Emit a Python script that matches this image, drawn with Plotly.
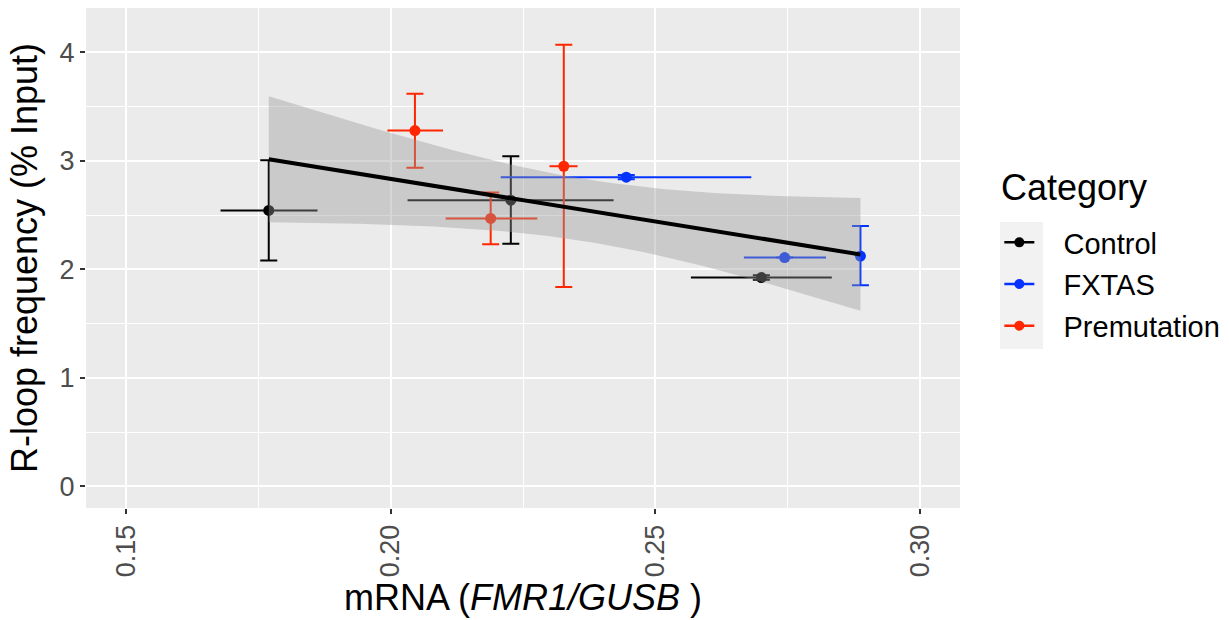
import numpy as np
import plotly.graph_objects as go

categories = ["Control", "FXTAS", "Premutation"]
colors = ["#000000", "#0433FF", "#FF2600"]

# point means (mRNA FMR1/GUSB, R-loop % input)
x_mean = {
    "Control": [0.1770, 0.2227, 0.2700],
    "FXTAS": [0.2445, 0.2744, 0.2887],
    "Premutation": [0.2046, 0.2189, 0.2327],
}
y_mean = {
    "Control": [2.544, 2.638, 1.925],
    "FXTAS": [2.850, 2.109, 2.123],
    "Premutation": [3.280, 2.470, 2.951],
}
# error-bar limits (None = no bar)
x_low = {
    "Control": [0.1679, 0.2032, 0.2567],
    "FXTAS": [0.2208, 0.2667, None],
    "Premutation": [0.1994, 0.2104, 0.2300],
}
x_high = {
    "Control": [0.1862, 0.2421, 0.2833],
    "FXTAS": [0.2681, 0.2822, None],
    "Premutation": [0.2099, 0.2277, 0.2353],
}
y_low = {
    "Control": [2.081, 2.237, 1.905],
    "FXTAS": [2.830, None, 1.854],
    "Premutation": [2.937, 2.231, 1.838],
}
y_high = {
    "Control": [3.006, 3.043, 1.945],
    "FXTAS": [2.870, None, 2.399],
    "Premutation": [3.620, 2.709, 4.071],
}

x_ticks = [0.15, 0.20, 0.25, 0.30]
x_tick_text = ["0.15", "0.20", "0.25", "0.30"]
y_ticks = [0, 1, 2, 3, 4]

FONT = "Liberation Sans, Arial, Helvetica, sans-serif"

def diffs(vals, lo, hi):
    plus, minus = [], []
    for v, l, h in zip(vals, lo, hi):
        if l is None or h is None:
            plus.append(None)
            minus.append(None)
        else:
            plus.append(h - v)
            minus.append(v - l)
    return plus, minus

fig = go.Figure()

for cat, col in zip(categories, colors):
    xp, xm = diffs(x_mean[cat], x_low[cat], x_high[cat])
    yp, ym = diffs(y_mean[cat], y_low[cat], y_high[cat])
    fig.add_trace(go.Scatter(
        x=x_mean[cat], y=y_mean[cat], mode="markers",
        marker=dict(color=col, size=11),
        error_x=dict(type="data", symmetric=False, array=xp, arrayminus=xm,
                     color=col, thickness=2, width=0),
        error_y=dict(type="data", symmetric=False, array=yp, arrayminus=ym,
                     color=col, thickness=2, width=8.5),
        showlegend=False, hoverinfo="skip",
    ))

# linear fit with 95% confidence band
all_x = np.array(sum((x_mean[c] for c in categories), []))
all_y = np.array(sum((y_mean[c] for c in categories), []))
n = len(all_x)
slope, intercept = np.polyfit(all_x, all_y, 1)
resid = all_y - (slope * all_x + intercept)
s = np.sqrt(np.sum(resid ** 2) / (n - 2))
sxx = np.sum((all_x - all_x.mean()) ** 2)
t_crit = 2.364624  # t(0.975, df=7)
xs = np.linspace(all_x.min(), all_x.max(), 80)
fit = slope * xs + intercept
se = s * np.sqrt(1.0 / n + (xs - all_x.mean()) ** 2 / sxx)
upper = fit + t_crit * se
lower = fit - t_crit * se

fig.add_trace(go.Scatter(
    x=np.concatenate([xs, xs[::-1]]), y=np.concatenate([upper, lower[::-1]]),
    fill="toself", fillcolor="rgba(153,153,153,0.4)", line=dict(width=0),
    mode="lines", showlegend=False, hoverinfo="skip",
))
fig.add_trace(go.Scatter(
    x=xs, y=fit, mode="lines", line=dict(color="#000000", width=4),
    showlegend=False, hoverinfo="skip",
))

# legend entries
for cat, col in zip(categories, colors):
    fig.add_trace(go.Scatter(
        x=[None], y=[None], mode="lines+markers", name="\u00a0\u00a0\u00a0" + cat,
        line=dict(color=col, width=2.5), marker=dict(color=col, size=10),
        legendgroup=cat,
    ))

fig.update_layout(
    width=1229, height=620,
    margin=dict(l=86, r=269, t=8, b=112, autoexpand=False),
    paper_bgcolor="white", plot_bgcolor="#EBEBEB",
    font=dict(family=FONT, color="#000000"),
    legend=dict(
        font=dict(size=29, color="#000000"),
        x=1.045, xanchor="left", y=0.582, yanchor="top",
        tracegroupgap=1, bgcolor="rgba(0,0,0,0)",
    ),
    annotations=[dict(
        text="Category", xref="paper", yref="paper", x=1.0446, y=0.642,
        xanchor="left", yanchor="middle", showarrow=False,
        font=dict(size=36, color="#000000"),
    )],
    shapes=[dict(
        type="rect", xref="paper", yref="paper",
        x0=1.0458, x1=1.0950, y0=0.318, y1=0.572,
        fillcolor="#F2F2F2", line=dict(width=0), layer="below",
    )],
    xaxis=dict(
        range=[0.1425, 0.3075], tickvals=x_ticks, ticktext=x_tick_text,
        tickangle=-90, ticks="outside", ticklen=5, tickwidth=1.5, tickcolor="#333333",
        tickfont=dict(size=27, color="#4D4D4D"),
        showgrid=True, gridcolor="white", gridwidth=1.6, zeroline=False,
        minor=dict(dtick=0.025, tick0=0.15, showgrid=True, gridcolor="white",
                   gridwidth=0.8, ticks=""),
        title=dict(text="mRNA (<i>FMR1/GUSB</i> )", font=dict(size=36), standoff=6),
        showline=False,
    ),
    yaxis=dict(
        range=[-0.2, 4.41], tickvals=y_ticks,
        ticks="outside", ticklen=5, tickwidth=1.5, tickcolor="#333333",
        tickfont=dict(size=27, color="#4D4D4D"),
        showgrid=True, gridcolor="white", gridwidth=1.6, zeroline=False,
        minor=dict(dtick=0.5, tick0=0, showgrid=True, gridcolor="white",
                   gridwidth=0.8, ticks=""),
        title=dict(text="R-loop frequency (% Input)", font=dict(size=36), standoff=10),
        showline=False,
    ),
)

fig.write_html("out.html")
